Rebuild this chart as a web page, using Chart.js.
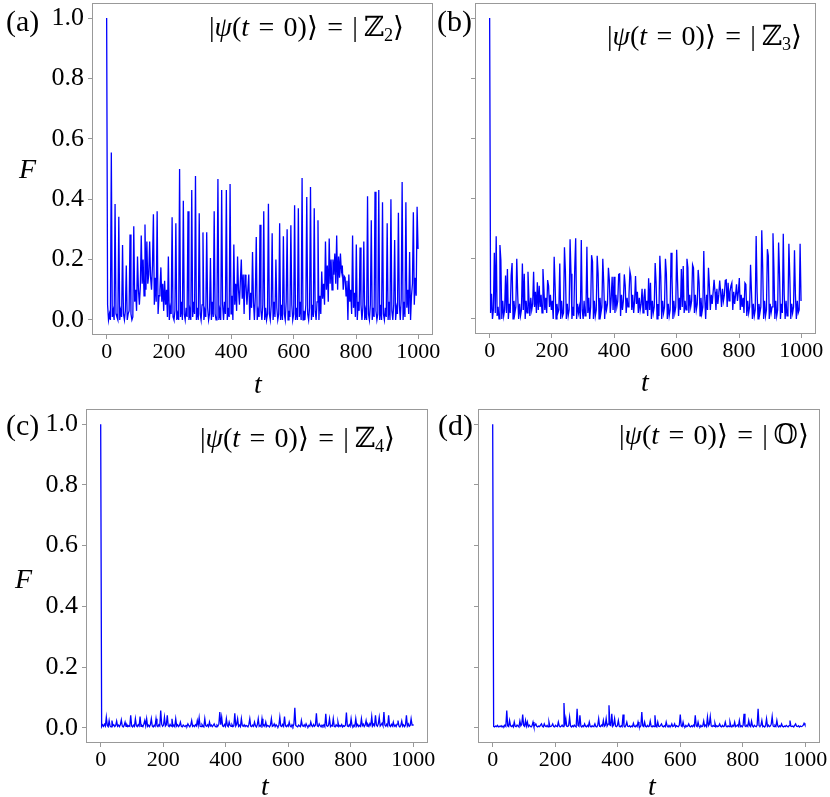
<!DOCTYPE html>
<html>
<head>
<meta charset="utf-8">
<script src="https://cdn.jsdelivr.net/npm/chart.js@4.4.1/dist/chart.umd.min.js"></script>
<style>
  html, body { margin: 0; padding: 0; background: #fff; }
  #fig { position: relative; width: 830px; height: 797px; overflow: hidden;
         font-family: 'Liberation Serif', 'DejaVu Serif', serif; color: #000; }
  .pane { position: absolute; }
  .txt { position: absolute; line-height: 1; white-space: nowrap; }
  .tag { font-size: 30px; }
  .state { font-size: 28px; }
  .ax { font-size: 28px; font-style: italic; }
  sub { font-size: 0.65em; vertical-align: -0.25em; line-height: 0; }
</style>
</head>
<body>
<div id="fig">
  <div class="pane" style="left:0;top:0"><canvas id="pa" width="440" height="400"></canvas></div>
  <div class="pane" style="left:440px;top:0"><canvas id="pb" width="390" height="400"></canvas></div>
  <div class="pane" style="left:0;top:400px"><canvas id="pc" width="440" height="397"></canvas></div>
  <div class="pane" style="left:440px;top:400px"><canvas id="pd" width="390" height="397"></canvas></div>

  <div class="txt tag" style="left:6px;top:6px">(a)</div>
  <div class="txt tag" style="left:437px;top:6px">(b)</div>
  <div class="txt tag" style="left:6px;top:410px">(c)</div>
  <div class="txt tag" style="left:438px;top:410px">(d)</div>

  <div class="txt state" style="left:209px;top:13px">|<i>ψ</i>(<i>t</i>&#8196;=&#8196;0)⟩&#8196;=&#8196;|&thinsp;ℤ<sub>2</sub>⟩</div>
  <div class="txt state" style="left:607px;top:22px">|<i>ψ</i>(<i>t</i>&#8196;=&#8196;0)⟩&#8196;=&#8196;|&thinsp;ℤ<sub>3</sub>⟩</div>
  <div class="txt state" style="left:200px;top:424px">|<i>ψ</i>(<i>t</i>&#8196;=&#8196;0)⟩&#8196;=&#8196;|&thinsp;ℤ<sub>4</sub>⟩</div>
  <div class="txt state" style="left:619px;top:421px">|<i>ψ</i>(<i>t</i>&#8196;=&#8196;0)⟩&#8196;=&#8196;|&thinsp;𝕆⟩</div>

  <div class="txt ax" style="left:19px;top:155px">F</div>
  <div class="txt ax" style="left:15px;top:565px">F</div>
  <div class="txt ax" style="left:254px;top:370px">t</div>
  <div class="txt ax" style="left:641px;top:368px">t</div>
  <div class="txt ax" style="left:261px;top:772px">t</div>
  <div class="txt ax" style="left:648px;top:772px">t</div>
</div>
<script>
// sampling times shared by all four panels
const tGrid = [
  0,3,6,9,12,15,18,21,24,27,
  30,33,36,39,42,45,48,51,54,57,
  60,63,66,69,72,75,78,81,84,87,
  90,93,96,99,102,105,108,111,114,117,
  120,123,126,129,132,135,138,141,144,147,
  150,153,156,159,162,165,168,171,174,177,
  180,183,186,189,192,195,198,201,204,207,
  210,213,216,219,222,225,228,231,234,237,
  240,243,246,249,252,255,258,261,264,267,
  270,273,276,279,282,285,288,291,294,297,
  300,303,306,309,312,315,318,321,324,327,
  330,333,336,339,342,345,348,351,354,357,
  360,363,366,369,372,375,378,381,384,387,
  390,393,396,399,402,405,408,411,414,417,
  420,423,426,429,432,435,438,441,444,447,
  450,453,456,459,462,465,468,471,474,477,
  480,483,486,489,492,495,498,501,504,507,
  510,513,516,519,522,525,528,531,534,537,
  540,543,546,549,552,555,558,561,564,567,
  570,573,576,579,582,585,588,591,594,597,
  600,603,606,609,612,615,618,621,624,627,
  630,633,636,639,642,645,648,651,654,657,
  660,663,666,669,672,675,678,681,684,687,
  690,693,696,699,702,705,708,711,714,717,
  720,723,726,729,732,735,738,741,744,747,
  750,753,756,759,762,765,768,771,774,777,
  780,783,786,789,792,795,798,801,804,807,
  810,813,816,819,822,825,828,831,834,837,
  840,843,846,849,852,855,858,861,864,867,
  870,873,876,879,882,885,888,891,894,897,
  900,903,906,909,912,915,918,921,924,927,
  930,933,936,939,942,945,948,951,954,957,
  960,963,966,969,972,975,978,981,984,987,
  990,993,996,999
];
const xTicks = [0, 200, 400, 600, 800, 1000];
const yTicks = [0, 0.2, 0.4, 0.6, 0.8, 1.0];

// (a) |Z2>
const fidelityZ2 = [
  1.0,0.05,0.0,0.02,0.0,0.555,0.01,0.03,0.0,0.384,
  0.02,0.01,0.0,0.342,0.0,0.03,0.01,0.248,0.02,0.0,
  0.03,0.18,0.0,0.02,0.03,0.283,0.02,0.0,0.01,0.31,
  0.06,0.1,0.03,0.21,0.1,0.05,0.11,0.28,0.12,0.2,
  0.08,0.316,0.1,0.26,0.12,0.15,0.26,0.14,0.1,0.18,
  0.35,0.05,0.14,0.06,0.36,0.02,0.08,0.1,0.174,0.06,
  0.12,0.03,0.13,0.05,0.1,0.01,0.21,0.0,0.04,0.02,
  0.34,0.01,0.0,0.03,0.32,0.0,0.02,0.0,0.5,0.01,
  0.06,0.0,0.395,0.02,0.0,0.04,0.01,0.36,0.0,0.03,
  0.0,0.43,0.01,0.06,0.02,0.477,0.0,0.04,0.0,0.353,
  0.02,0.0,0.05,0.29,0.0,0.03,0.01,0.29,0.04,0.0,
  0.02,0.205,0.0,0.06,0.01,0.36,0.02,0.0,0.05,0.467,
  0.0,0.03,0.0,0.43,0.05,0.0,0.06,0.02,0.43,0.0,
  0.04,0.01,0.45,0.02,0.08,0.0,0.25,0.05,0.12,0.03,
  0.21,0.1,0.05,0.13,0.2,0.07,0.15,0.02,0.15,0.12,
  0.05,0.1,0.15,0.0,0.09,0.04,0.225,0.06,0.0,0.08,
  0.275,0.0,0.03,0.01,0.315,0.03,0.0,0.05,0.36,0.0,
  0.04,0.0,0.02,0.385,0.02,0.0,0.05,0.287,0.0,0.06,
  0.01,0.2,0.04,0.0,0.02,0.32,0.0,0.05,0.0,0.277,
  0.02,0.0,0.06,0.3,0.0,0.03,0.01,0.314,0.05,0.0,
  0.02,0.38,0.0,0.04,0.0,0.37,0.01,0.06,0.0,0.47,
  0.0,0.03,0.0,0.05,0.407,0.02,0.0,0.04,0.44,0.0,
  0.05,0.01,0.37,0.03,0.0,0.06,0.33,0.0,0.08,0.02,
  0.16,0.07,0.12,0.05,0.26,0.1,0.18,0.06,0.27,0.12,
  0.2,0.1,0.2,0.15,0.22,0.12,0.28,0.1,0.21,0.14,
  0.22,0.16,0.18,0.1,0.145,0.14,0.08,0.13,0.0,0.15,
  0.06,0.1,0.02,0.28,0.04,0.09,0.01,0.25,0.0,0.06,
  0.03,0.24,0.05,0.0,0.04,0.26,0.0,0.03,0.0,0.41,
  0.02,0.0,0.05,0.33,0.0,0.04,0.01,0.425,0.03,0.0,
  0.02,0.43,0.0,0.05,0.0,0.39,0.02,0.0,0.04,0.01,
  0.32,0.0,0.06,0.0,0.4,0.03,0.0,0.05,0.265,0.0,
  0.04,0.02,0.355,0.05,0.0,0.07,0.457,0.0,0.06,0.01,
  0.39,0.04,0.1,0.02,0.225,0.0,0.08,0.12,0.357,0.05,
  0.14,0.08,0.375,0.235
];

// (b) |Z3>
const fidelityZ3 = [
  1.0,0.02,0.084,0.0,0.03,0.22,0.02,0.275,0.01,0.04,
  0.0,0.246,0.195,0.0,0.06,0.01,0.03,0.144,0.02,0.166,
  0.0,0.05,0.02,0.145,0.186,0.0,0.06,0.02,0.04,0.2,
  0.08,0.0,0.05,0.01,0.03,0.184,0.03,0.15,0.0,0.06,
  0.02,0.157,0.07,0.01,0.07,0.03,0.05,0.157,0.04,0.09,
  0.02,0.122,0.03,0.11,0.04,0.08,0.02,0.166,0.1,0.03,
  0.07,0.02,0.129,0.11,0.04,0.08,0.03,0.06,0.0,0.207,
  0.11,0.0,0.05,0.02,0.03,0.184,0.0,0.06,0.01,0.02,
  0.238,0.16,0.0,0.05,0.01,0.03,0.265,0.15,0.0,0.04,
  0.01,0.17,0.268,0.0,0.05,0.02,0.04,0.0,0.262,0.03,
  0.0,0.06,0.01,0.03,0.24,0.02,0.07,0.0,0.04,0.212,
  0.19,0.0,0.06,0.01,0.03,0.21,0.15,0.0,0.07,0.02,
  0.04,0.2,0.12,0.0,0.06,0.03,0.05,0.17,0.13,0.02,
  0.07,0.14,0.03,0.14,0.02,0.08,0.04,0.06,0.148,0.15,
  0.01,0.08,0.03,0.06,0.148,0.11,0.02,0.07,0.04,0.08,
  0.158,0.14,0.03,0.08,0.02,0.06,0.143,0.05,0.09,0.02,
  0.07,0.03,0.05,0.1,0.02,0.07,0.1,0.03,0.06,0.01,
  0.135,0.03,0.12,0.0,0.06,0.02,0.04,0.186,0.12,0.0,
  0.05,0.01,0.21,0.14,0.0,0.06,0.02,0.04,0.2,0.15,
  0.0,0.05,0.01,0.03,0.22,0.14,0.0,0.06,0.02,0.04,
  0.23,0.12,0.01,0.07,0.03,0.166,0.04,0.176,0.02,0.06,
  0.03,0.2,0.17,0.02,0.08,0.04,0.06,0.18,0.17,0.02,
  0.08,0.03,0.05,0.163,0.12,0.01,0.07,0.02,0.04,0.226,
  0.07,0.0,0.08,0.03,0.17,0.11,0.03,0.08,0.05,0.09,
  0.13,0.09,0.03,0.1,0.05,0.08,0.128,0.09,0.04,0.1,
  0.06,0.08,0.128,0.13,0.04,0.12,0.06,0.09,0.11,0.12,
  0.03,0.09,0.05,0.08,0.115,0.06,0.09,0.136,0.03,0.08,
  0.04,0.07,0.02,0.12,0.115,0.01,0.06,0.02,0.04,0.18,
  0.09,0.0,0.05,0.01,0.03,0.276,0.09,0.0,0.05,0.02,
  0.04,0.295,0.17,0.0,0.06,0.01,0.03,0.232,0.21,0.0,
  0.05,0.02,0.04,0.285,0.17,0.0,0.06,0.01,0.03,0.254,
  0.15,0.0,0.05,0.02,0.283,0.08,0.0,0.06,0.01,0.03,
  0.25,0.14,0.0,0.05,0.02,0.04,0.228,0.08,0.0,0.06,
  0.02,0.03,0.25,0.06
];

// (c) |Z4>
const fidelityZ4 = [
  1.0,0.004,0.01,0.005,0.012,0.006,0.035,0.008,0.004,0.024,
  0.006,0.003,0.024,0.007,0.01,0.004,0.008,0.022,0.005,0.009,
  0.004,0.011,0.026,0.006,0.003,0.008,0.019,0.005,0.01,0.004,
  0.007,0.005,0.041,0.006,0.003,0.009,0.005,0.03,0.007,0.004,
  0.01,0.006,0.037,0.005,0.008,0.004,0.012,0.024,0.007,0.03,
  0.005,0.009,0.004,0.011,0.03,0.006,0.003,0.008,0.005,0.03,
  0.007,0.004,0.01,0.006,0.057,0.012,0.005,0.009,0.035,0.006,
  0.01,0.041,0.007,0.004,0.011,0.006,0.03,0.005,0.009,0.004,
  0.03,0.006,0.01,0.004,0.008,0.019,0.005,0.003,0.009,0.006,
  0.004,0.008,0.005,0.013,0.007,0.003,0.009,0.024,0.005,0.008,
  0.004,0.01,0.006,0.024,0.008,0.033,0.005,0.004,0.011,0.006,
  0.003,0.03,0.007,0.005,0.01,0.004,0.019,0.006,0.009,0.004,
  0.008,0.013,0.005,0.003,0.009,0.006,0.012,0.052,0.01,0.035,
  0.006,0.004,0.011,0.005,0.03,0.007,0.004,0.019,0.008,0.005,
  0.01,0.004,0.007,0.048,0.006,0.012,0.03,0.005,0.009,0.004,
  0.03,0.007,0.005,0.01,0.004,0.008,0.006,0.003,0.011,0.03,
  0.006,0.004,0.009,0.005,0.019,0.007,0.003,0.01,0.03,0.005,
  0.008,0.004,0.03,0.006,0.01,0.005,0.019,0.004,0.008,0.006,
  0.003,0.009,0.03,0.005,0.007,0.013,0.004,0.01,0.006,0.003,
  0.008,0.035,0.006,0.004,0.011,0.005,0.037,0.007,0.004,0.009,
  0.005,0.019,0.006,0.003,0.01,0.004,0.012,0.066,0.008,0.005,
  0.003,0.009,0.006,0.004,0.024,0.007,0.005,0.01,0.004,0.013,
  0.006,0.003,0.008,0.005,0.019,0.007,0.004,0.011,0.005,0.009,
  0.048,0.006,0.004,0.013,0.007,0.003,0.009,0.005,0.01,0.004,
  0.046,0.007,0.005,0.009,0.03,0.004,0.008,0.006,0.03,0.005,
  0.003,0.01,0.006,0.019,0.004,0.008,0.005,0.011,0.003,0.007,
  0.005,0.009,0.0505,0.006,0.004,0.01,0.005,0.03,0.007,0.004,
  0.009,0.005,0.03,0.006,0.011,0.004,0.008,0.005,0.03,0.007,
  0.012,0.004,0.009,0.024,0.006,0.011,0.005,0.014,0.008,0.037,
  0.006,0.012,0.007,0.041,0.009,0.005,0.013,0.035,0.006,0.01,
  0.015,0.007,0.052,0.009,0.005,0.012,0.006,0.041,0.008,0.004,
  0.011,0.006,0.019,0.005,0.009,0.004,0.012,0.024,0.006,0.003,
  0.008,0.022,0.005,0.01,0.004,0.009,0.041,0.006,0.013,0.005,
  0.008,0.03,0.009,0.012
];

// (d) |O>
const fidelityO = [
  1.0,0.005,0.003,0.006,0.004,0.008,0.003,0.005,0.004,0.007,
  0.003,0.006,0.004,0.009,0.005,0.057,0.006,0.004,0.024,0.007,
  0.004,0.008,0.003,0.019,0.005,0.004,0.009,0.006,0.003,0.022,
  0.007,0.012,0.044,0.008,0.005,0.024,0.006,0.019,0.004,0.009,
  0.005,0.003,0.007,0.019,0.004,0.008,0.013,0.005,0.003,0.006,
  0.004,0.009,0.013,0.005,0.003,0.013,0.006,0.004,0.008,0.003,
  0.019,0.005,0.004,0.007,0.013,0.004,0.003,0.008,0.005,0.004,
  0.019,0.006,0.003,0.005,0.009,0.004,0.0816,0.007,0.03,0.005,
  0.004,0.008,0.035,0.006,0.003,0.007,0.004,0.009,0.005,0.003,
  0.063,0.008,0.005,0.041,0.006,0.003,0.007,0.004,0.013,0.005,
  0.003,0.008,0.004,0.019,0.005,0.003,0.007,0.004,0.006,0.013,
  0.004,0.003,0.008,0.03,0.005,0.004,0.009,0.006,0.024,0.005,
  0.008,0.03,0.006,0.012,0.074,0.009,0.007,0.046,0.005,0.01,
  0.03,0.006,0.004,0.008,0.024,0.005,0.003,0.007,0.004,0.044,
  0.006,0.003,0.008,0.019,0.005,0.004,0.007,0.003,0.006,0.004,
  0.015,0.005,0.003,0.008,0.004,0.019,0.006,0.003,0.007,0.052,
  0.006,0.004,0.019,0.005,0.003,0.008,0.004,0.006,0.022,0.005,
  0.003,0.007,0.004,0.041,0.006,0.003,0.019,0.005,0.004,0.008,
  0.013,0.005,0.003,0.007,0.004,0.019,0.006,0.003,0.008,0.004,
  0.005,0.013,0.004,0.006,0.013,0.003,0.007,0.005,0.004,0.009,
  0.044,0.006,0.004,0.019,0.005,0.003,0.008,0.004,0.006,0.013,
  0.005,0.003,0.007,0.004,0.009,0.005,0.041,0.006,0.004,0.019,
  0.005,0.003,0.008,0.004,0.006,0.022,0.005,0.009,0.004,0.035,
  0.007,0.012,0.037,0.006,0.004,0.008,0.005,0.015,0.003,0.007,
  0.004,0.006,0.013,0.005,0.003,0.008,0.004,0.006,0.019,0.005,
  0.003,0.007,0.004,0.019,0.006,0.003,0.008,0.005,0.019,0.004,
  0.006,0.009,0.005,0.024,0.004,0.007,0.003,0.008,0.046,0.006,
  0.004,0.009,0.005,0.024,0.007,0.004,0.022,0.006,0.003,0.008,
  0.005,0.004,0.009,0.063,0.007,0.005,0.008,0.024,0.004,0.006,
  0.003,0.007,0.03,0.005,0.009,0.004,0.006,0.012,0.037,0.006,
  0.004,0.008,0.005,0.024,0.006,0.003,0.007,0.004,0.013,0.005,
  0.003,0.006,0.004,0.008,0.005,0.003,0.007,0.024,0.005,0.004,
  0.006,0.003,0.008,0.013,0.005,0.004,0.007,0.003,0.006,0.004,
  0.005,0.008,0.015,0.009
];

const serif = "'Liberation Serif', 'DejaVu Serif', serif";

// box around the plot area
const frame = {
  id: 'frame',
  afterDraw(chart) {
    const { ctx, chartArea: a } = chart;
    ctx.save();
    ctx.strokeStyle = '#999';
    ctx.lineWidth = 1;
    ctx.strokeRect(Math.round(a.left) + 0.5, Math.round(a.top) + 0.5,
                   Math.round(a.right - a.left) - 1, Math.round(a.bottom - a.top) - 1);
    ctx.restore();
  }
};

function makePanel(id, values, box, showY) {
  const points = tGrid.map((t, i) => ({ x: t, y: values[i] })).filter(p => p.y !== undefined);
  return new Chart(document.getElementById(id), {
    type: 'line',
    data: {
      datasets: [{
        data: points,
        borderColor: '#0000ff',
        borderWidth: 1.3,
        pointRadius: 0,
        tension: 0,
        fill: false
      }]
    },
    options: {
      responsive: false,
      animation: false,
      events: [],
      layout: { padding: { top: box.top, right: box.right, bottom: 0, left: 0 } },
      plugins: { legend: { display: false }, tooltip: { enabled: false } },
      scales: {
        x: {
          type: 'linear',
          min: -47,
          max: 1047,
          afterBuildTicks: ax => { ax.ticks = xTicks.map(v => ({ value: v })); },
          afterFit: ax => { ax.height = box.xh; ax.paddingLeft = 0; ax.paddingRight = 0; },
          border: { display: false },
          grid: { drawOnChartArea: false, drawTicks: true, tickLength: 4, color: '#999' },
          ticks: {
            color: '#000',
            padding: 2,
            maxRotation: 0,
            autoSkip: false,
            font: { family: serif, size: 22, lineHeight: 1 },
            callback: v => String(v)
          }
        },
        y: {
          type: 'linear',
          min: -0.05,
          max: 1.05,
          afterBuildTicks: ax => { ax.ticks = yTicks.map(v => ({ value: v })); },
          afterFit: ax => { ax.width = box.yw; ax.paddingTop = 0; ax.paddingBottom = 0; },
          border: { display: false },
          grid: { drawOnChartArea: false, drawTicks: true, tickLength: 4, color: '#999' },
          ticks: {
            display: showY,
            color: '#000',
            padding: 4,
            font: { family: serif, size: 26, lineHeight: 1 },
            callback: v => v.toFixed(1)
          }
        }
      }
    },
    plugins: [frame]
  });
}

makePanel('pa', fidelityZ2, { top: 3, right: 7, xh: 65, yw: 92 }, true);
makePanel('pb', fidelityZ3, { top: 3, right: 14, xh: 66, yw: 35 }, false);
makePanel('pc', fidelityZ4, { top: 9, right: 12, xh: 54, yw: 86 }, true);
makePanel('pd', fidelityO, { top: 9, right: 10, xh: 54, yw: 38 }, false);
</script>
</body>
</html>
